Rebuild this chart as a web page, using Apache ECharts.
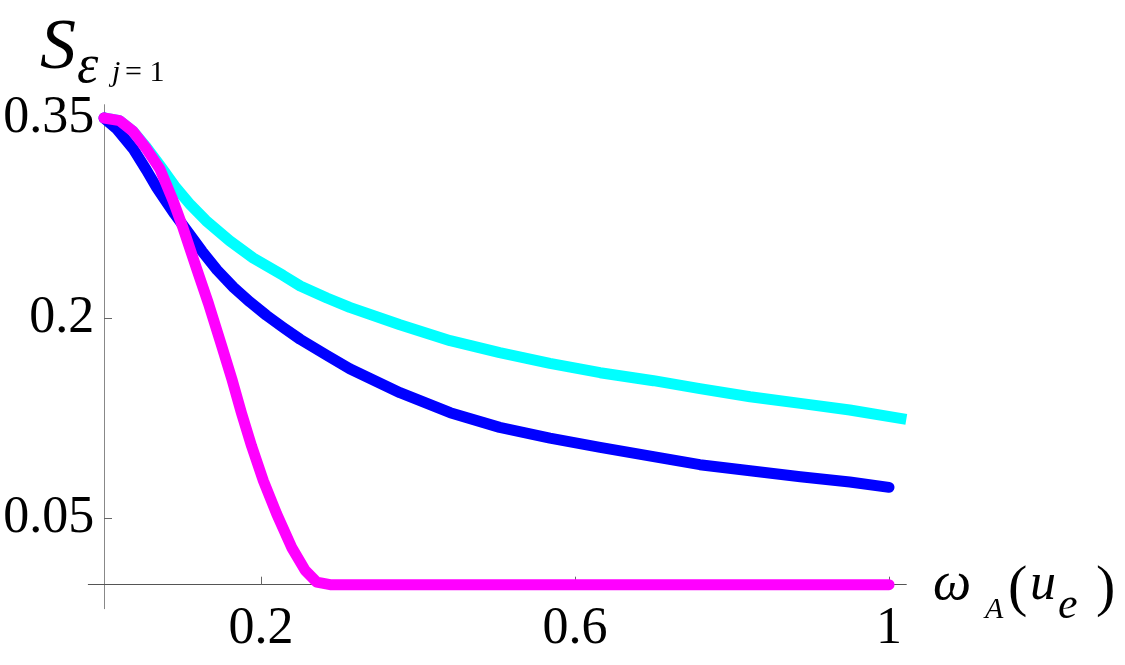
<!DOCTYPE html>
<html>
<head>
<meta charset="utf-8">
<script src="https://cdn.jsdelivr.net/npm/echarts@6/dist/echarts.min.js"></script>
<style>
  html, body { margin: 0; padding: 0; background: #fff; }
  #chart { width: 1125px; height: 665px; }
</style>
</head>
<body>
<div id="chart"></div>
<script>
// values
var cyanX = [0, 0.02, 0.037, 0.054, 0.073, 0.09, 0.11, 0.13, 0.16, 0.19, 0.228, 0.25, 0.284, 0.313,
             0.377, 0.441, 0.504, 0.568, 0.632, 0.7, 0.759, 0.823, 0.887, 0.95, 1.022];
var cyanY = [0.35, 0.348, 0.340, 0.328, 0.313, 0.299, 0.285, 0.273, 0.258, 0.245, 0.232, 0.224, 0.215, 0.208,
             0.195, 0.183, 0.174, 0.166, 0.159, 0.153, 0.147, 0.141, 0.136, 0.131, 0.124];

var blueX = [0, 0.016, 0.037, 0.054, 0.067, 0.076, 0.09, 0.11, 0.125, 0.144, 0.165, 0.186, 0.207, 0.228,
             0.25, 0.284, 0.313, 0.377, 0.441, 0.504, 0.568, 0.632, 0.7, 0.759, 0.823, 0.887, 0.95, 1.0];
var blueY = [0.35, 0.342, 0.327, 0.311, 0.298, 0.290, 0.278, 0.262, 0.250, 0.236, 0.223, 0.212, 0.202, 0.193,
             0.184, 0.172, 0.162, 0.144, 0.129, 0.118, 0.110, 0.103, 0.096, 0.090, 0.0855, 0.081, 0.077, 0.073];

var magentaX = [0, 0.02, 0.037, 0.054, 0.071, 0.088, 0.101, 0.118, 0.133, 0.15, 0.163, 0.175, 0.188, 0.203,
                0.22, 0.239, 0.256, 0.271, 0.288, 0.4, 0.6, 0.8, 1.0];
var magentaY = [0.35, 0.348, 0.340, 0.327, 0.312, 0.288, 0.267, 0.237, 0.211, 0.179, 0.154, 0.129, 0.104, 0.078,
                0.053, 0.028, 0.011, 0.002, 0, 0, 0, 0, 0];

var xTickValues = [0.2, 0.6, 1];
var xTickLabels = ['0.2', '0.6', '1'];
var yTickValues = [0.05, 0.2, 0.35];
var yTickLabels = ['0.05', '0.2', '0.35'];

function pairs(xs, ys) {
    return xs.map(function (x, i) { return [x, ys[i]]; });
}

var serif = '"Liberation Serif", "DejaVu Serif", serif';

function lineSeries(name, xs, ys, color, cap) {
    return {
        name: name,
        type: 'line',
        data: pairs(xs, ys),
        showSymbol: false,
        smooth: false,
        clip: false,
        lineStyle: { color: color, width: 11, cap: cap, join: 'round' }
    };
}

function txt(x, y, s, size, italic) {
    return {
        type: 'text', x: x, y: y,
        style: {
            text: s, fill: '#000',
            font: (italic ? 'italic ' : '') + size + 'px ' + serif,
            textAlign: 'left', textVerticalAlign: 'middle', verticalAlign: 'middle'
        }
    };
}

var chart = echarts.init(document.getElementById('chart'), null, { renderer: 'canvas' });
chart.setOption({
    backgroundColor: '#fff',
    animation: false,
    grid: { left: 88.3, right: 218.7, top: 104.7, bottom: 56.3, containLabel: false, outerBoundsMode: 'none' },
    xAxis: {
        type: 'value',
        min: -0.02, max: 1.022,
        axisLine: { onZero: true, lineStyle: { color: '#555', width: 1 } },
        axisTick: { show: true, inside: true, length: 8, customValues: xTickValues, lineStyle: { color: '#666' } },
        axisLabel: {
            customValues: xTickValues,
            margin: -5,
            color: '#000',
            fontFamily: serif,
            fontSize: 52,
            formatter: function (v) {
                var i = xTickValues.indexOf(v);
                return i >= 0 ? xTickLabels[i] : '';
            }
        },
        splitLine: { show: false }
    },
    yAxis: {
        type: 'value',
        min: -0.018, max: 0.36,
        axisLine: { show: true, onZero: true, lineStyle: { color: '#888', width: 1 } },
        axisTick: { show: true, inside: true, length: 8, customValues: yTickValues, lineStyle: { color: '#666' } },
        axisLabel: {
            customValues: yTickValues,
            margin: -6,
            color: '#000',
            fontFamily: serif,
            fontSize: 52,
            formatter: function (v) {
                var i = yTickValues.indexOf(v);
                return i >= 0 ? yTickLabels[i] : '';
            }
        },
        splitLine: { show: false }
    },
    series: [
        lineSeries('cyan', cyanX, cyanY, '#00ffff', 'butt'),
        lineSeries('blue', blueX, blueY, '#0000ff', 'round'),
        lineSeries('magenta', magentaX, magentaY, '#ff00ff', 'round')
    ],
    graphic: [
        // y axis name: S_{ε j=1}
        txt(40, 49, 'S', 72, true),
        txt(77, 68, 'ε', 54, true),
        txt(112, 73, 'j', 30, true),
        txt(125, 73, '= 1', 30, false),
        // x axis name: ω_A(u_e)
        txt(933, 585, 'ω', 54, true),
        txt(985, 610, 'A', 30, true),
        txt(1008, 590, '(', 58, false),
        txt(1030, 585, 'u', 52, true),
        txt(1058, 606, 'e', 44, true),
        txt(1096, 590, ')', 58, false)
    ]
});
</script>
</body>
</html>
